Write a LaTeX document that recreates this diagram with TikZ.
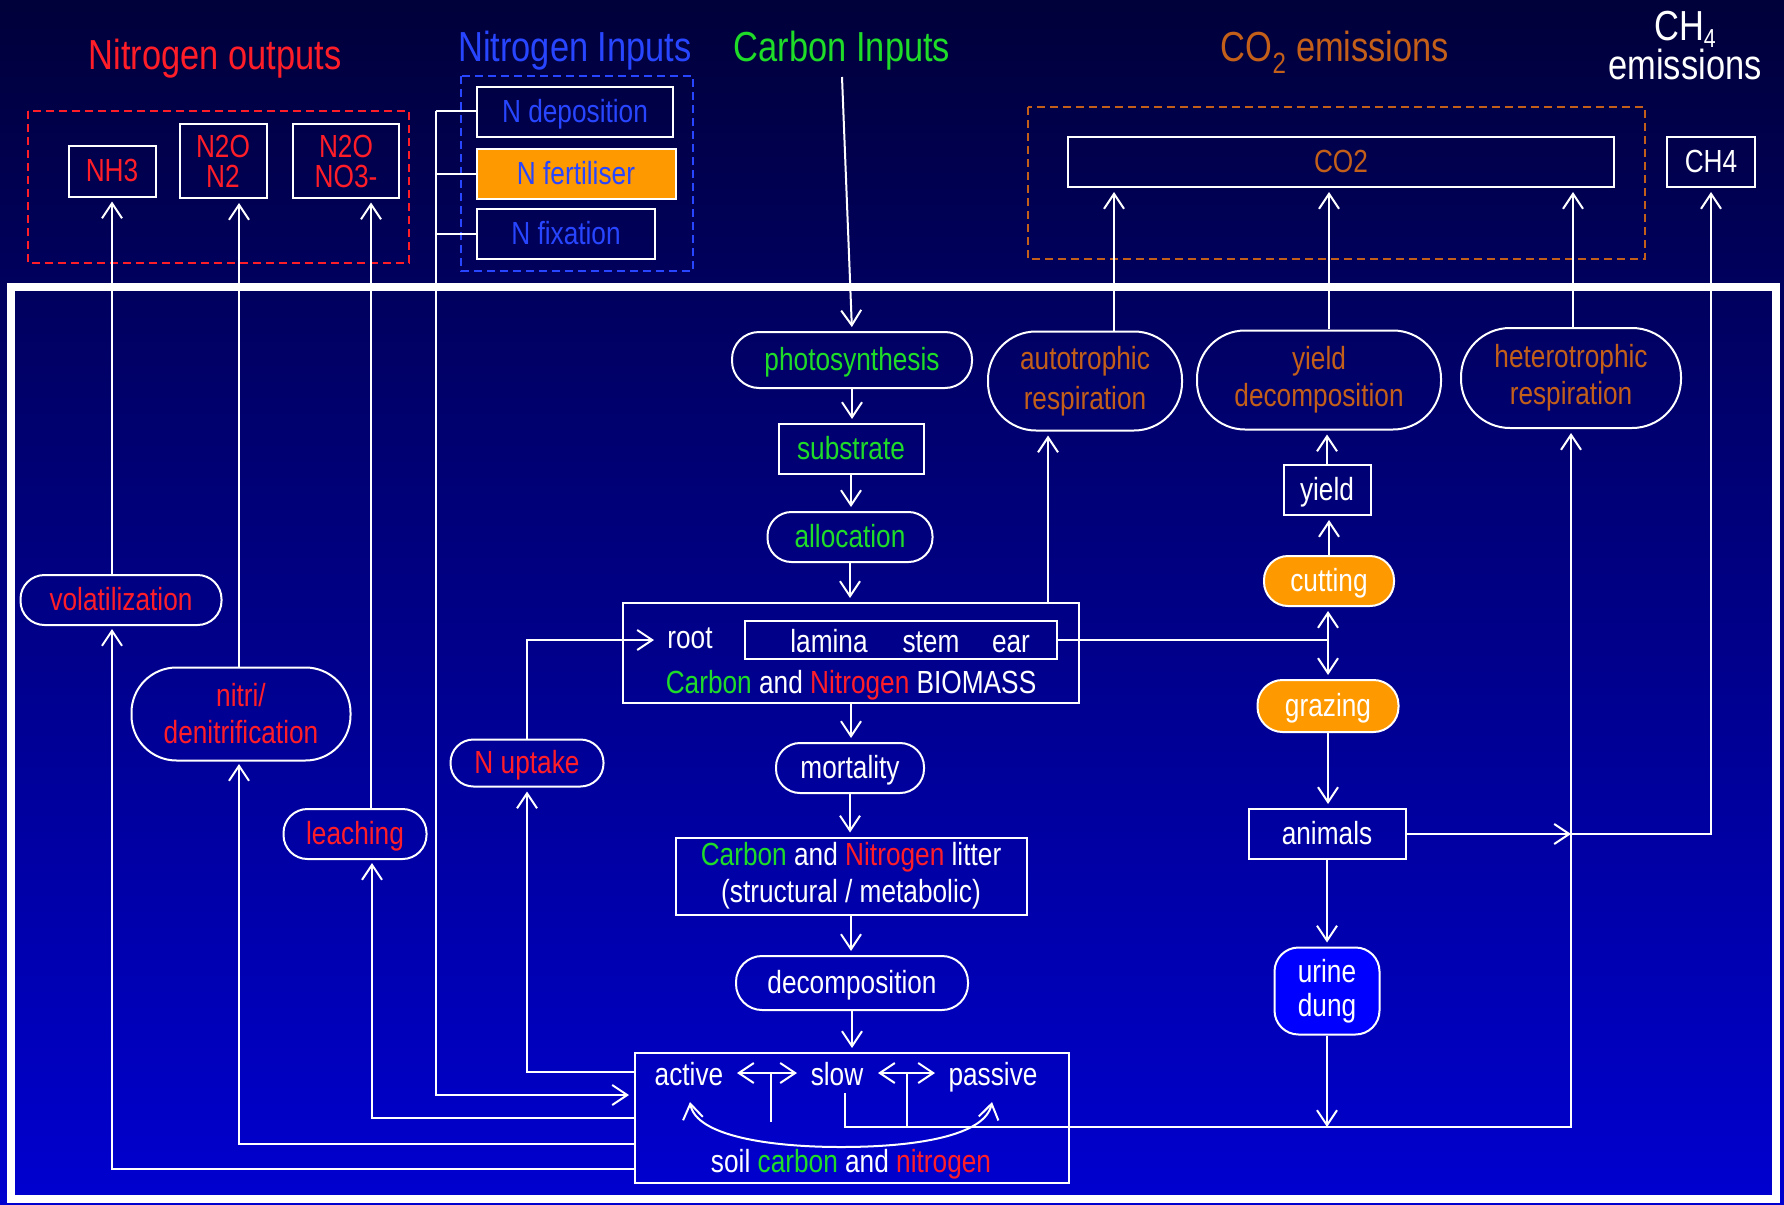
\documentclass[tikz,border=0pt]{standalone}
\usepackage{fontspec}
\setmainfont[FakeStretch=0.82]{Liberation Sans}
\usetikzlibrary{arrows.meta,calc}
\definecolor{bgtop}{RGB}{0,0,58}
\definecolor{bgbot}{RGB}{0,0,208}
\definecolor{nred}{RGB}{255,30,40}
\definecolor{cgreen}{RGB}{30,220,40}
\definecolor{nblue}{RGB}{40,70,255}
\definecolor{cbrown}{RGB}{195,95,25}
\definecolor{forange}{RGB}{255,153,0}
\definecolor{ublue}{RGB}{0,0,255}
\newcommand\dgnode{\fontsize{32}{38}\selectfont}
\newcommand\dgtitle{\fontsize{42}{38}\selectfont}
\tikzset{
  bx/.style={draw=white, line width=2pt, inner sep=0pt, text=white, font=\dgnode},
  one/.style={text height=23pt, text depth=3pt},
  pill/.style={bx, rounded corners=#1},
  pill/.default=24pt,
  conn/.style={draw=white, line width=2pt},
  arr/.style={conn, -{Straight Barb[length=15pt,width=20pt]}, shorten >=4pt},
  dbl/.style={conn, {Straight Barb[length=15pt,width=20pt]}-{Straight Barb[length=15pt,width=20pt]}},
  ttl/.style={inner sep=0pt, anchor=base, font=\dgtitle},
  txt/.style={inner sep=0pt, anchor=base, font=\dgnode, text=white},
  dframe/.style={line width=2pt, dash pattern=on 8pt off 5pt}
}
\begin{document}
\begin{tikzpicture}[x=1pt,y=-1pt]
\useasboundingbox (0,0) rectangle (1784,1204);
\shade[top color=bgtop, bottom color=bgbot] (0,0) rectangle (1784,1204);
\draw[white, line width=8pt] (11,287) rectangle (1776,1199);

% titles
\node[ttl, text=nred] (tnout) at (215,70) {Nitrogen outputs};
\node[ttl, text=nblue] (tnin) at (575,62) {Nitrogen Inputs};
\node[ttl, text=cgreen] (tcin) at (842,62) {Carbon Inputs};
\node[ttl, text=cbrown] (tco2) at (1335,62) {CO\textsubscript{2} emissions};
\node[inner sep=0pt, align=center, text=white, font=\fontsize{42}{39}\selectfont] (tch4) at (1685,46) {CH\raisebox{-7pt}{\fontsize{26}{26}\selectfont 4}\\emissions};

% dashed groups
\draw[dframe, nred] (28,111) rectangle (409,263);
\draw[dframe, nblue] (461,76) rectangle (693,271);
\draw[dframe, cbrown] (1028,107) rectangle (1645,259);

% output boxes
\node[bx, one, minimum width=87pt, minimum height=51pt, text=nred] (nh3) at (112,171) {NH3};
\node[bx, align=center, minimum width=87pt, minimum height=74pt, text=nred, font=\fontsize{32}{30}\selectfont] (n2on2) at (223,161) {N2O\\N2};
\node[bx, align=center, minimum width=106pt, minimum height=73pt, text=nred, font=\fontsize{32}{30}\selectfont] (n2ono3) at (346,161) {N2O\\NO3-};
\node[bx, one, minimum width=196pt, minimum height=50pt, text=nblue] (ndep) at (575,112) {N deposition};
\node[bx, one, minimum width=199pt, minimum height=50pt, text=nblue, fill=forange] (nfert) at (576,174) {N fertiliser};
\node[bx, one, minimum width=178pt, minimum height=50pt, text=nblue] (nfix) at (566,234) {N fixation};
\node[bx, one, minimum width=546pt, minimum height=50pt, text=cbrown] (co2) at (1341,162) {CO2};
\node[bx, one, minimum width=88pt, minimum height=50pt] (ch4) at (1711,162) {CH4};

% central column
\node[pill=27pt, one, minimum width=240pt, minimum height=56pt, text=cgreen] (photo) at (852,360) {photosynthesis};
\node[bx, one, minimum width=145pt, minimum height=50pt, text=cgreen] (subst) at (851,449) {substrate};
\node[pill, one, minimum width=165pt, minimum height=50pt, text=cgreen] (alloc) at (850,537) {allocation};
\node[bx, minimum width=456pt, minimum height=100pt] (biomass) at (851,653) {};
\node[bx, minimum width=312pt, minimum height=38pt] (organs) at (901,640) {};
\node[txt] (troot) at (690,648) {root};
\node[txt] (tlam) at (829,652) {lamina};
\node[txt] (tstem) at (931,652) {stem};
\node[txt] (tear) at (1011,652) {ear};
\node[txt] (tbio) at (851,693) {\textcolor{cgreen}{Carbon} and \textcolor{nred}{Nitrogen} BIOMASS};
\node[pill, one, minimum width=148pt, minimum height=50pt] (mort) at (850,768) {mortality};
\node[bx, align=center, minimum width=351pt, minimum height=77pt, font=\fontsize{32}{37}\selectfont] (litter) at (851,876) {\textcolor{cgreen}{Carbon} and \textcolor{nred}{Nitrogen} litter\\(structural / metabolic)};
\node[pill=26pt, one, minimum width=232pt, minimum height=54pt] (decomp) at (852,983) {decomposition};
\node[bx, minimum width=434pt, minimum height=130pt] (soil) at (852,1118) {};
\node[txt] (tact) at (689,1085) {active};
\node[txt] (tslow) at (837,1085) {slow};
\node[txt] (tpass) at (993,1085) {passive};
\node[txt] (tsoil) at (851,1172) {soil \textcolor{cgreen}{carbon} and \textcolor{nred}{nitrogen}};

% right column
\node[pill=48pt, align=center, minimum width=194pt, minimum height=99pt, text=cbrown, font=\fontsize{32}{40}\selectfont] (auto) at (1085,381) {autotrophic\\respiration};
\node[pill=48pt, align=center, minimum width=244pt, minimum height=99pt, text=cbrown, font=\fontsize{32}{37}\selectfont] (yielddec) at (1319,380) {yield\\decomposition};
\node[pill=49pt, align=center, minimum width=220pt, minimum height=100pt, text=cbrown, font=\fontsize{32}{37}\selectfont] (hetero) at (1571,378) {heterotrophic\\respiration};
\node[bx, one, minimum width=87pt, minimum height=50pt] (yield) at (1327,490) {yield};
\node[pill, one, minimum width=130pt, minimum height=50pt, fill=forange] (cutting) at (1329,581) {cutting};
\node[pill=25pt, one, minimum width=141pt, minimum height=52pt, fill=forange] (grazing) at (1328,706) {grazing};
\node[bx, one, minimum width=157pt, minimum height=50pt] (animals) at (1327,834) {animals};
\node[bx, rounded corners=24pt, align=center, minimum width=105pt, minimum height=87pt, fill=ublue, font=\fontsize{32}{34}\selectfont] (urine) at (1327,991) {urine\\dung};

% left column
\node[pill, one, minimum width=201pt, minimum height=50pt, text=nred] (volat) at (121,600) {volatilization};
\node[pill=45pt, align=center, minimum width=219pt, minimum height=93pt, text=nred, font=\fontsize{32}{37}\selectfont] (nitri) at (241,714) {nitri/\\denitrification};
\node[pill, one, minimum width=143pt, minimum height=50pt, text=nred] (leach) at (355,834) {leaching};
\node[pill=23pt, one, minimum width=153pt, minimum height=47pt, text=nred] (nupt) at (527,763) {N uptake};

% ---- connectors
\coordinate (cinS) at (842,77);
\draw[arr] (cinS) -- (photo.north);
\draw[arr] (photo.south) -- (photo.south |- subst.north);
\draw[arr] (subst.south) -- (subst.south |- alloc.north);
\draw[arr] (alloc.south) -- (alloc.south |- biomass.north);
\draw[arr] (biomass.south) -- (biomass.south |- mort.north);
\draw[arr] (mort.south) -- (mort.south |- litter.north);
\draw[arr] (litter.south) -- (litter.south |- decomp.north);
\draw[arr] (decomp.south) -- (decomp.south |- soil.north);

\coordinate (bioA) at (1048,603);
\draw[arr] (bioA) -- (bioA |- auto.south);
\coordinate (autoT) at (1114,331);
\draw[arr] (autoT) -- (autoT |- co2.south);
\coordinate (ydT) at (1329,329);
\draw[arr] (ydT) -- (ydT |- co2.south);
\coordinate (heT) at (1573,327);
\draw[arr] (heT) -- (heT |- co2.south);

\draw[arr] (yield.north) -- (yield.north |- yielddec.south);
\draw[arr] (cutting.north) -- (cutting.north |- yield.south);
\coordinate (jn) at (1328,640);
\draw[conn] (organs.east) -- (jn);
\draw[arr] (jn) -- (jn |- cutting.south);
\draw[arr] (jn) -- (jn |- grazing.north);
\draw[arr] (grazing.south) -- (grazing.south |- animals.north);
\draw[arr] (animals.south) -- (animals.south |- urine.north);

\coordinate (hBot) at (1571,1127);
\coordinate (slowS) at (845,1093);
\draw[arr] (slowS) |- (hBot) -- (hetero.south);
\draw[arr, shorten >=0pt] (urine.south) -- (urine.south |- hBot);

\coordinate (aMid) at (1571,834);
\coordinate (aCorner) at (1711,834);
\draw[arr, shorten >=0pt] (animals.east) -- (aMid);
\draw[arr] (aMid) -- (aCorner) -- (ch4.south);

% soil internals
\coordinate (dA1) at (737,1073);
\coordinate (dA2) at (797,1073);
\coordinate (dB1) at (878,1073);
\coordinate (dB2) at (935,1073);
\draw[dbl] (dA1) -- (dA2);
\draw[dbl] (dB1) -- (dB2);
\draw[conn] (771,1073) -- (771,1122);
\draw[conn] (907,1073) -- (907,1127);
\coordinate (cvA) at (690,1102);
\coordinate (cvP) at (992,1102);
\draw[dbl] (cvA) .. controls (696,1136) and (770,1147) .. (841,1147) .. controls (915,1147) and (985,1136) .. (cvP);

% left connections
\coordinate (sNU) at (635,1072);
\draw[arr] (sNU) -| (nupt.south);
\coordinate (rootIn) at (654,640);
\draw[arr, shorten >=0pt] (nupt.north) |- (rootIn);

\coordinate (brT) at (436,111);
\coordinate (sNI) at (635,1095);
\draw[arr, shorten >=6pt] (brT) |- (sNI);
\draw[conn] (brT) -- (brT -| ndep.west);
\draw[conn] (nfert.west -| brT) -- (nfert.west);
\draw[conn] (nfix.west -| brT) -- (nfix.west);

\coordinate (sLe) at (635,1118);
\coordinate (leB) at (372,859);
\draw[arr] (sLe) -| (leB);
\coordinate (leT) at (371,809);
\draw[arr] (leT) -- (leT |- n2ono3.south);

\coordinate (sNi) at (635,1144);
\coordinate (niB) at (239,760);
\draw[arr] (sNi) -| (niB);
\coordinate (niT) at (239,667);
\draw[arr] (niT) -- (niT |- n2on2.south);

\coordinate (sVo) at (635,1169);
\coordinate (voB) at (112,625);
\draw[arr] (sVo) -| (voB);
\coordinate (voT) at (112,575);
\draw[arr] (voT) -- (voT |- nh3.south);
\end{tikzpicture}
\end{document}
